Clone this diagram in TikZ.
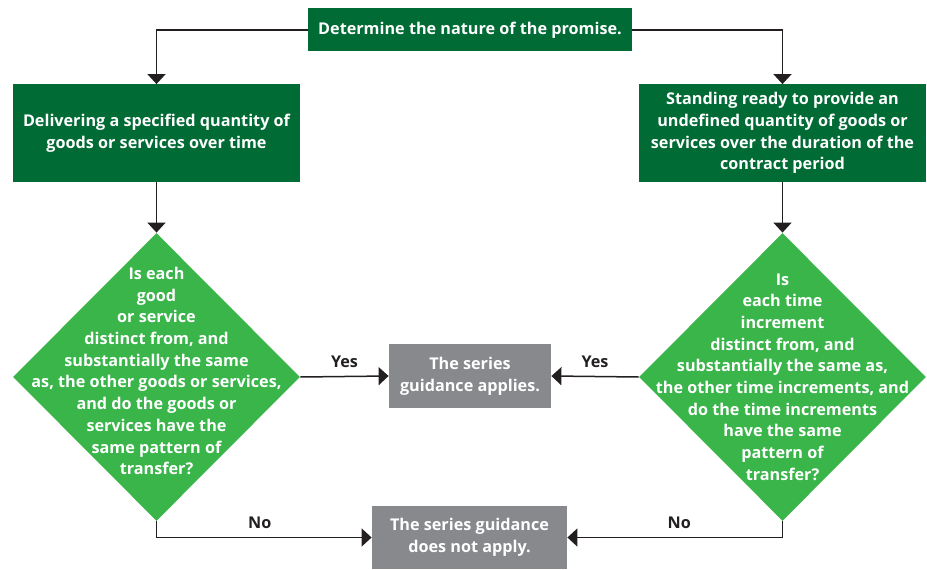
\documentclass[tikz,border=0pt]{standalone}
\usepackage{fontspec}
\setmainfont{Open Sans}
\usepackage{xcolor}
\definecolor{stepDark}{HTML}{006B35}
\definecolor{askGreen}{HTML}{39B54A}
\definecolor{endGray}{HTML}{87898C}
\definecolor{lineDark}{HTML}{231F20}
\usetikzlibrary{positioning,calc,arrows.meta,shapes.geometric}
\tikzset{
  stepBox/.style={
    rectangle,
    fill=stepDark,
    text=white,
    align=center,
    inner sep=0pt
 },
  askBox/.style={
    diamond,
    fill=askGreen,
    inner sep=0pt,
    minimum width=143.5pt,
    minimum height=144pt
 },
  askText/.style={
    text=white,
    align=center
 },
  endBox/.style={
    rectangle,
    fill=endGray,
    text=white,
    align=center,
    inner sep=0pt
 },
  arrowLine/.style={
    -{Triangle[length=5pt,width=9pt]},
    line width=0.75pt,
    color=lineDark
 },
  answer/.style={
    text=lineDark,
    inner sep=0pt,
    yshift=4pt
 }
}

\begin{document}
\begin{tikzpicture}[x=0.5pt,y=0.5pt,font=\fontsize{8.1}{10.85}\selectfont\bfseries]
            \useasboundingbox (0,0) rectangle (927,569);

            % Top: the promise
            \node[stepBox, minimum width=162pt, minimum height=21.5pt] (promise) at (470,539) {Determine the nature of the promise.};

            % Two kinds of promise
            \node[stepBox, minimum width=143.5pt, minimum height=48.5pt] (specified) at (156.5,436) {Delivering a specified quantity of\\goods or services over time};
            \node[stepBox, minimum width=143.5pt, minimum height=48.5pt] (standready) at (782.5,436) {Standing ready to provide an\\undefined quantity of goods or\\services over the duration of the\\contract period};

            % Questions
            \node[askBox, label={[askText, yshift=3pt]center:Is each\\good\\or service\\distinct from, and\\substantially the same\\as, the other goods or services,\\and do the goods or\\services have the\\same pattern of\\transfer?}] (askGoods) at (156.5,192) {};
            \node[askBox, label={[askText]center:Is\\each time\\increment\\distinct from, and\\substantially the same as,\\the other time increments, and\\do the time increments\\have the same\\pattern of\\transfer?}] (askTime) at (782.5,192) {};

            % Outcomes
            \node[endBox, minimum width=81pt, minimum height=32pt] (applies) at (470,193) {The series\\guidance applies.};
            \node[endBox, minimum width=97.5pt, minimum height=31.5pt] (notapply) at (469.5,31.5) {The series guidance\\does not apply.};

            % Arrows
            \draw[arrowLine] (promise.west) -| (specified.north);
            \draw[arrowLine] (promise.east) -| (standready.north);
            \draw[arrowLine] (specified) -- (askGoods);
            \draw[arrowLine] (standready) -- (askTime);
            \draw[arrowLine] (askGoods.east) -- node[answer, above] {Yes} (applies.west);
            \draw[arrowLine] (askTime.west) -- node[answer, above] {Yes} (applies.east);
            \draw[arrowLine] (askGoods.south) |- node[answer, above, pos=0.74] {No} (notapply.west);
            \draw[arrowLine] (askTime.south) |- node[answer, above, pos=0.74] {No} (notapply.east);

        \end{tikzpicture}
\end{document}
